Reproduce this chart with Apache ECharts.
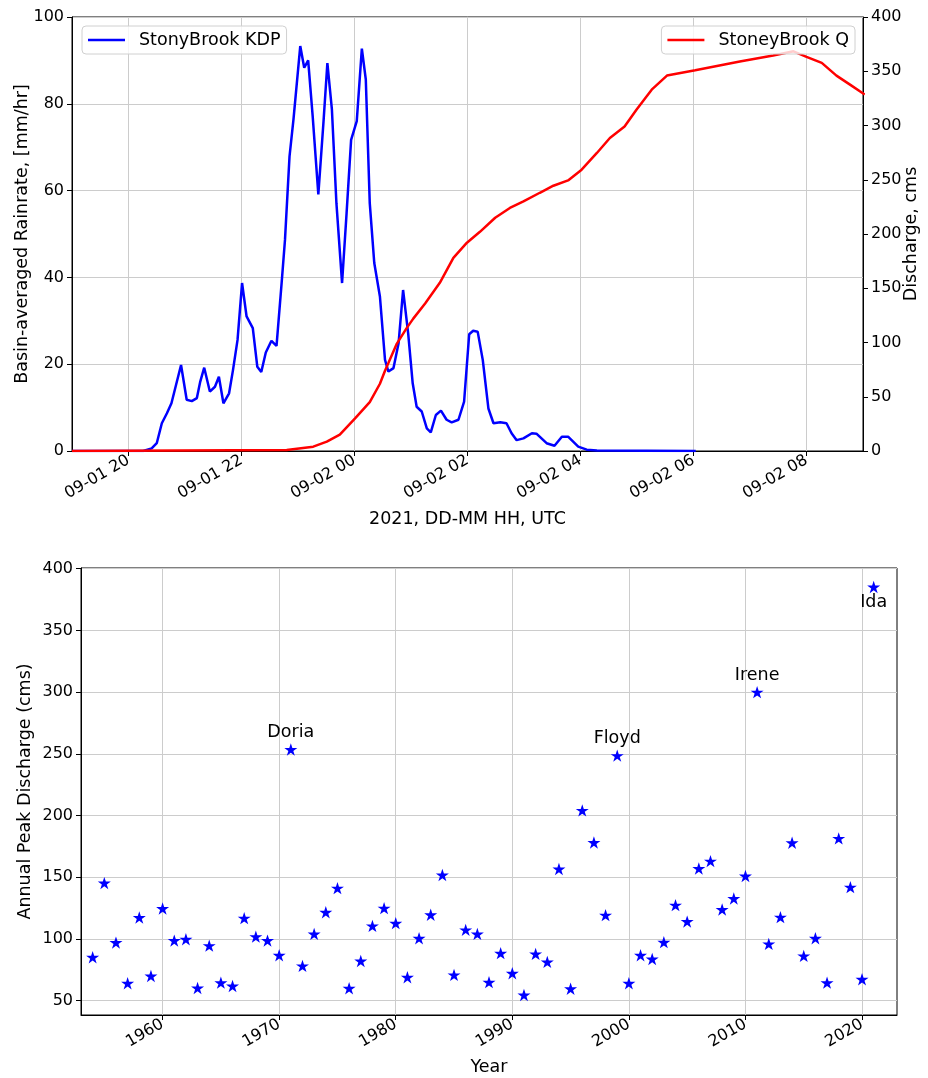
<!DOCTYPE html>
<html><head><meta charset="utf-8">
<script src="https://cdn.jsdelivr.net/npm/echarts@6/dist/echarts.min.js"></script>
<style>html,body{margin:0;padding:0;background:#fff}#c{width:928px;height:1078px}</style>
</head><body><div id="c"></div>
<script>
// Hours since 2021-09-01 00:00 UTC
const kdpHours = [19.00,20.26,20.41,20.50,20.59,20.68,20.76,20.82,20.93,21.03,21.12,21.21,21.27,21.34,21.44,21.53,21.60,21.68,21.78,21.85,21.93,22.01,22.09,22.20,22.28,22.35,22.43,22.53,22.62,22.71,22.77,22.85,22.92,23.04,23.11,23.18,23.26,23.36,23.45,23.52,23.60,23.68,23.78,23.86,23.94,24.04,24.13,24.20,24.27,24.35,24.45,24.54,24.60,24.69,24.78,24.86,24.95,25.03,25.10,25.19,25.28,25.35,25.44,25.53,25.63,25.72,25.84,25.94,26.03,26.10,26.18,26.27,26.37,26.46,26.58,26.69,26.78,26.87,26.99,27.14,27.22,27.40,27.54,27.67,27.78,27.96,28.11,28.29,30.04];
const kdpRate  = [0,0,0.6,1.8,6.4,8.7,11.0,14.1,19.8,11.8,11.5,12.2,16.0,19.2,13.7,14.8,17.1,11.0,13.3,18.7,25.6,38.7,31.0,28.3,19.4,18.2,22.7,25.4,24.2,38.7,48.7,67.9,76.4,93.3,88.3,90.0,77.1,59.1,75.6,89.4,78.7,57.1,38.7,54.8,71.7,76.0,92.7,85.6,57.1,43.3,35.6,21.0,18.3,19.1,24.8,37.1,27.1,15.6,10.2,9.1,5.2,4.3,8.3,9.3,7.2,6.6,7.2,11.4,26.9,27.7,27.5,21.0,9.8,6.4,6.6,6.4,4.1,2.5,2.9,4.1,4.0,1.8,1.2,3.3,3.3,1.0,0.3,0.1,0];
const qHours = [19.00,22.80,23.27,23.51,23.74,24.01,24.27,24.45,24.54,24.60,24.75,24.92,25.04,25.25,25.51,25.75,25.99,26.22,26.49,26.75,26.99,27.28,27.52,27.78,28.02,28.29,28.52,28.78,28.99,29.26,29.53,30.03,30.82,31.41,31.77,32.00,32.27,32.53,32.77,33.03];
const qDischarge = [0,1,4,8.6,15,30,45,62,74,81,99,113,122,136,155,178,192,202,215,224,230,238,244.5,249.4,259.3,274.7,288.5,299,314.6,333,346,351,359,364.5,368.4,363.3,357.7,346,337.7,328.5];
const timeTicks = [20,22,24,26,28,30,32];
const timeTickLabels = ['09-01 20','09-01 22','09-02 00','09-02 02','09-02 04','09-02 06','09-02 08'];

const peakYears = [1954,1955,1956,1957,1958,1959,1960,1961,1962,1963,1964,1965,1966,1967,1968,1969,1970,1971,1972,1973,1974,1975,1976,1977,1978,1979,1980,1981,1982,1983,1984,1985,1986,1987,1988,1989,1990,1991,1992,1993,1994,1995,1996,1997,1998,1999,2000,2001,2002,2003,2004,2005,2006,2007,2008,2009,2010,2011,2012,2013,2014,2015,2016,2017,2018,2019,2020,2021];
const peakQ = [85.2,145.3,97.1,64.1,117.4,70.0,124.7,98.7,99.8,60.3,94.6,64.6,61.9,116.9,101.9,98.7,86.8,253.5,78.2,104.1,121.7,141.2,60.1,82.2,110.6,125.0,112.8,69.0,100.6,119.6,151.8,70.9,107.4,104.1,65.0,88.5,72.2,54.6,87.9,81.4,156.7,59.7,204.2,178.2,119.3,248.6,64.1,86.8,83.8,97.4,127.4,114.1,157.1,163.1,123.9,132.8,151.0,300.0,96.0,117.7,178.0,86.3,100.6,64.6,181.5,142.0,67.4,385.2];
const stormYears = [1971,1999,2011,2021];
const stormNames = ['Doria','Floyd','Irene','Ida'];
const yearTicks = [1960,1970,1980,1990,2000,2010,2020];
const peakTicks = [50,100,150,200,250,300,350,400];

const FONT = 'DejaVu Sans';
const GRIDC = '#cccccc';
const STAR = 'path://M0,-10L2.245,-3.09L9.511,-3.09L3.633,1.18L5.878,8.09L0,3.82L-5.878,8.09L-3.633,1.18L-9.511,-3.09L-2.245,-3.09Z';

const kdpData = kdpHours.map((h, i) => [h, kdpRate[i]]);
const qData = qHours.map((h, i) => [h, qDischarge[i]]);
const peakData = peakYears.map((y, i) => {
  const k = stormYears.indexOf(y);
  const item = { value: [y, peakQ[i]] };
  if (k >= 0) {
    const below = stormNames[k] === 'Ida';
    item.label = { show: true, formatter: stormNames[k], position: below ? 'bottom' : 'top', distance: below ? 0 : 2,
      color: '#000', fontSize: 17.5, fontFamily: FONT };
  }
  return item;
});

const tickLbl = { color: '#000', fontSize: 16, fontFamily: FONT };
const nameTS = { color: '#000', fontSize: 17.5, fontFamily: FONT };
const axLine = { show: true, lineStyle: { color: '#000', width: 1 } };
const axTick = { show: true, length: 5, lineStyle: { color: '#000', width: 1 } };

const chart = echarts.init(document.getElementById('c'), null, { renderer: 'canvas' });
chart.setOption({
  animation: false,
  backgroundColor: '#fff',
  textStyle: { fontFamily: FONT },
  grid: [
    { left: 72, right: 63, top: 17, height: 434, show: true, borderColor: '#000', borderWidth: 1, backgroundColor: 'transparent' },
    { left: 81, right: 31, top: 568, height: 447, show: true, borderColor: '#000', borderWidth: 1, backgroundColor: 'transparent' }
  ],
  legend: [
    { data: ['StonyBrook KDP'], left: 82, top: 26, orient: 'horizontal', icon: 'rect', itemWidth: 37, itemHeight: 2.5,
      padding: [5, 6, 5, 6], borderColor: '#d0d0d0', borderWidth: 1, borderRadius: 4, backgroundColor: 'rgba(255,255,255,0.8)',
      textStyle: { color: '#000', fontSize: 17.5, fontFamily: FONT, padding: [0, 0, 0, 9] } },
    { data: ['StoneyBrook Q'], right: 73, top: 26, orient: 'horizontal', icon: 'rect', itemWidth: 37, itemHeight: 2.5,
      padding: [5, 6, 5, 6], borderColor: '#d0d0d0', borderWidth: 1, borderRadius: 4, backgroundColor: 'rgba(255,255,255,0.8)',
      textStyle: { color: '#000', fontSize: 17.5, fontFamily: FONT, padding: [0, 0, 0, 9] } }
  ],
  xAxis: [
    { gridIndex: 0, type: 'value', min: 19, max: 33,
      axisLine: { ...axLine, onZero: false }, axisTick: { ...axTick, customValues: timeTicks },
      axisLabel: { ...tickLbl, customValues: timeTicks, rotate: 30, margin: 8,
        formatter: v => { const k = timeTicks.indexOf(v); return k >= 0 ? timeTickLabels[k] : ''; } },
      splitLine: { show: true, lineStyle: { color: GRIDC, width: 1 } },
      name: '2021, DD-MM HH, UTC', nameLocation: 'middle', nameGap: 59, nameMoveOverlap: false, nameTextStyle: nameTS },
    { gridIndex: 1, type: 'value', min: 1953, max: 2023,
      axisLine: { ...axLine, onZero: false }, axisTick: { ...axTick, customValues: yearTicks },
      axisLabel: { ...tickLbl, customValues: yearTicks, rotate: 30, margin: 8, formatter: v => String(v) },
      splitLine: { show: true, lineStyle: { color: GRIDC, width: 1 } },
      name: 'Year', nameLocation: 'middle', nameGap: 43, nameMoveOverlap: false, nameTextStyle: nameTS }
  ],
  yAxis: [
    { gridIndex: 0, type: 'value', position: 'left', min: 0, max: 100, interval: 20,
      axisLine: { ...axLine, onZero: false }, axisTick: axTick, axisLabel: { ...tickLbl, margin: 8 },
      splitLine: { show: true, lineStyle: { color: GRIDC, width: 1 } },
      name: 'Basin-averaged Rainrate, [mm/hr]', nameLocation: 'middle', nameGap: 41, nameRotate: 90, nameMoveOverlap: false, nameTextStyle: nameTS },
    { gridIndex: 0, type: 'value', position: 'right', min: 0, max: 400, interval: 50,
      axisLine: { ...axLine, onZero: false }, axisTick: axTick, axisLabel: { ...tickLbl, margin: 8 },
      splitLine: { show: false },
      name: 'Discharge, cms', nameLocation: 'middle', nameGap: 39, nameRotate: 90, nameMoveOverlap: false, nameTextStyle: nameTS },
    { gridIndex: 1, type: 'value', position: 'left', min: 38.4, max: 400.6,
      axisLine: { ...axLine, onZero: false }, axisTick: { ...axTick, customValues: peakTicks },
      axisLabel: { ...tickLbl, customValues: peakTicks, margin: 8 },
      splitLine: { show: true, lineStyle: { color: GRIDC, width: 1 } },
      name: 'Annual Peak Discharge (cms)', nameLocation: 'middle', nameGap: 47, nameRotate: 90, nameMoveOverlap: false, nameTextStyle: nameTS }
  ],
  series: [
    { name: 'StonyBrook KDP', type: 'line', xAxisIndex: 0, yAxisIndex: 0, data: kdpData, showSymbol: false, symbol: 'none',
      lineStyle: { color: '#0000ff', width: 2.5 }, itemStyle: { color: '#0000ff' }, z: 2 },
    { name: 'StoneyBrook Q', type: 'line', xAxisIndex: 0, yAxisIndex: 1, data: qData, showSymbol: false, symbol: 'none',
      lineStyle: { color: '#ff0000', width: 2.5 }, itemStyle: { color: '#ff0000' }, z: 3 },
    { name: 'Annual Peak', type: 'scatter', xAxisIndex: 1, yAxisIndex: 2, data: peakData, symbol: STAR, symbolSize: 13, symbolKeepAspect: true,
      itemStyle: { color: '#0000ff', opacity: 1 },
      label: { show: false, color: '#000', fontSize: 17.5, fontFamily: FONT } }
  ]
});
</script></body></html>
